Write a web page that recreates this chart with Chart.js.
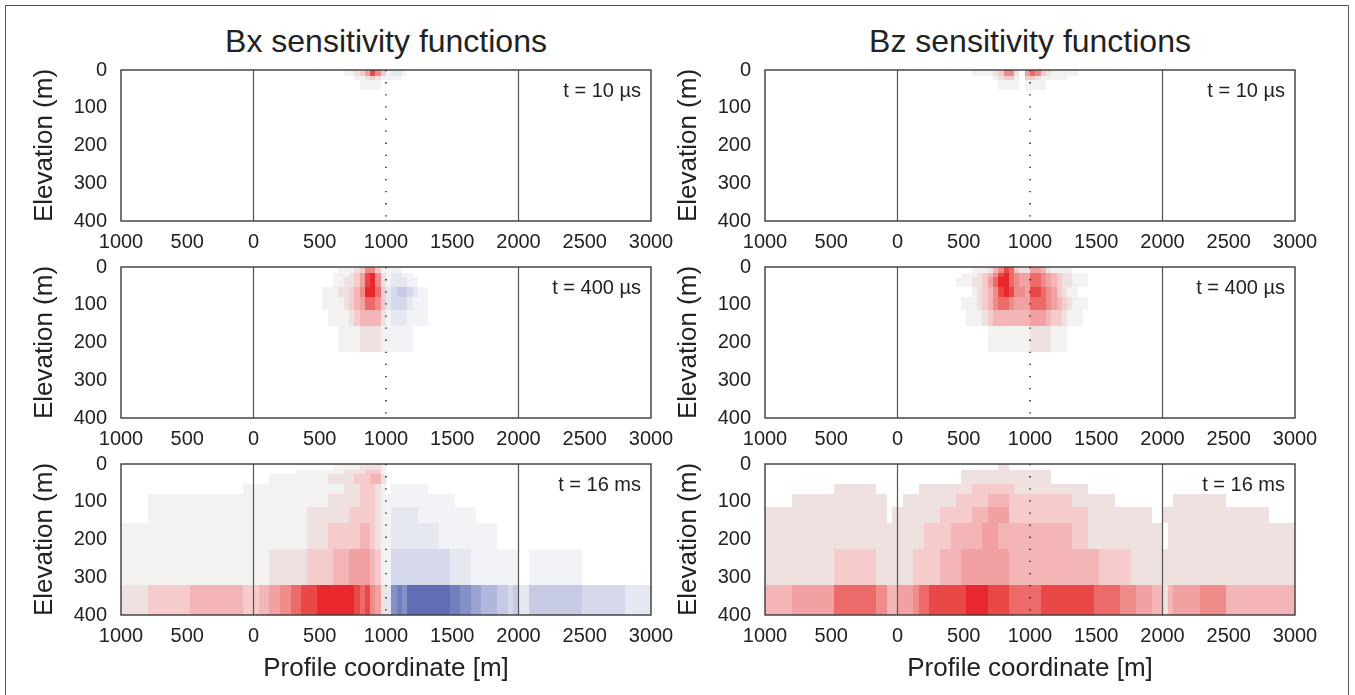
<!DOCTYPE html>
<html>
<head>
<meta charset="utf-8">
<script src="https://cdn.jsdelivr.net/npm/chart.js@4.4.1/dist/chart.umd.min.js"></script>
<style>
  html, body { margin: 0; padding: 0; background: #fff; overflow: hidden; }
  body { width: 1355px; height: 695px; position: relative; font-family: 'Liberation Sans', Arial, sans-serif; color: #222; }
  .frame { position: absolute; left: 5px; top: 5px; width: 1342px; height: 720px; border: 1px solid #555; }
  .ptitle { position: absolute; top: 25px; width: 530px; text-align: center; font-size: 32px; line-height: 32px; white-space: nowrap; }
  canvas { position: absolute; }
</style>
</head>
<body>
<div class="frame"></div>
<div class="ptitle" style="left:121px">Bx sensitivity functions</div>
<div class="ptitle" style="left:765px">Bz sensitivity functions</div>
<canvas id="bx10"></canvas>
<canvas id="bz10"></canvas>
<canvas id="bx400"></canvas>
<canvas id="bz400"></canvas>
<canvas id="bx16"></canvas>
<canvas id="bz16"></canvas>
<script>
// mesh cell edges (m): coarse pads left/right, 40 m cells between 0 and 2000
const xEdges = [-1000, -800, -480, -160, -80, -40,
  0, 40, 80, 120, 160, 200, 240, 280, 320, 360,
  400, 440, 480, 520, 560, 600, 640, 680, 720, 760,
  800, 840, 880, 920, 960, 1000, 1040, 1080, 1120, 1160,
  1200, 1240, 1280, 1320, 1360, 1400, 1440, 1480, 1520, 1560,
  1600, 1640, 1680, 1720, 1760, 1800, 1840, 1880, 1920, 1960,
  2000, 2040, 2080, 2280, 2480, 2800, 3000];
const yEdges = [0, 15, 27, 53, 80, 115, 157, 225, 320, 400];

const xTickValues = [-1000, -500, 0, 500, 1000, 1500, 2000, 2500, 3000];
const xTickLabels = ['1000', '500', '0', '500', '1000', '1500', '2000', '2500', '3000'];
const yTickValues = [0, 100, 200, 300, 400];
const yTickLabels = ['0', '100', '200', '300', '400'];
const solidLines = [0, 2000];
const dottedLine = 1000;

// sensitivity, signed level -9..9 (red +, blue -), one row per depth layer
// columns: 6 left pads | 50 centre cells | 6 right pads
const bx10 = [
  [0,0,0,0,0,0, 0,0,0,0,0,0,0,0,0,0, 0,0,0,0,0,0,0,1,1,2, 3,5,8,6,3,-1,-2,-2,-1,0, 0,0,0,0,0,0,0,0,0,0, 0,0,0,0,0,0,0,0,0,0, 0,0,0,0,0,0],
  [0,0,0,0,0,0, 0,0,0,0,0,0,0,0,0,0, 0,0,0,0,0,0,0,0,0,1, 1,2,3,2,1,-1,-1,-1,0,0, 0,0,0,0,0,0,0,0,0,0, 0,0,0,0,0,0,0,0,0,0, 0,0,0,0,0,0],
  [0,0,0,0,0,0, 0,0,0,0,0,0,0,0,0,0, 0,0,0,0,0,0,0,0,0,0, 1,1,1,1,0,0,0,0,0,0, 0,0,0,0,0,0,0,0,0,0, 0,0,0,0,0,0,0,0,0,0, 0,0,0,0,0,0],
  [], [], [], [], [], []
];
const bz10 = [
  [0,0,0,0,0,0, 0,0,0,0,0,0,0,0,0,0, 0,0,0,0,1,1,1,1,2,3, 6,6,2,0,5,7,6,3,2,1, 1,1,1,1,0,0,0,0,0,0, 0,0,0,0,0,0,0,0,0,0, 0,0,0,0,0,0],
  [0,0,0,0,0,0, 0,0,0,0,0,0,0,0,0,0, 0,0,0,0,0,0,0,0,1,2, 3,3,1,0,3,3,2,1,1,1, 1,1,0,0,0,0,0,0,0,0, 0,0,0,0,0,0,0,0,0,0, 0,0,0,0,0,0],
  [0,0,0,0,0,0, 0,0,0,0,0,0,0,0,0,0, 0,0,0,0,0,0,0,0,0,1, 1,1,1,0,1,1,1,1,0,0, 0,0,0,0,0,0,0,0,0,0, 0,0,0,0,0,0,0,0,0,0, 0,0,0,0,0,0],
  [], [], [], [], [], []
];
const bx400 = [
  [0,0,0,0,0,0, 0,0,0,0,0,0,0,0,0,0, 0,0,0,0,0,0,1,1,1,2, 3,6,6,3,1,-1,-1,-1,0,0, 0,0,0,0,0,0,0,0,0,0, 0,0,0,0,0,0,0,0,0,0, 0,0,0,0,0,0],
  [0,0,0,0,0,0, 0,0,0,0,0,0,0,0,0,0, 0,0,0,0,0,1,1,1,2,3, 5,8,9,6,2,-1,-2,-2,-1,-1, 0,0,0,0,0,0,0,0,0,0, 0,0,0,0,0,0,0,0,0,0, 0,0,0,0,0,0],
  [0,0,0,0,0,0, 0,0,0,0,0,0,0,0,0,0, 0,0,0,0,0,1,1,2,2,3, 5,8,9,6,2,-1,-2,-2,-2,-1, -1,0,0,0,0,0,0,0,0,0, 0,0,0,0,0,0,0,0,0,0, 0,0,0,0,0,0],
  [0,0,0,0,0,0, 0,0,0,0,0,0,0,0,0,0, 0,0,0,1,1,1,2,2,3,4, 6,9,9,7,3,-2,-3,-4,-4,-3, -2,-1,-1,0,0,0,0,0,0,0, 0,0,0,0,0,0,0,0,0,0, 0,0,0,0,0,0],
  [0,0,0,0,0,0, 0,0,0,0,0,0,0,0,0,0, 0,0,0,1,1,1,1,2,3,4, 5,7,7,6,3,-2,-3,-3,-3,-2, -1,-1,-1,0,0,0,0,0,0,0, 0,0,0,0,0,0,0,0,0,0, 0,0,0,0,0,0],
  [0,0,0,0,0,0, 0,0,0,0,0,0,0,0,0,0, 0,0,0,0,1,1,1,1,2,3, 4,4,4,4,2,-1,-2,-2,-2,-1, -1,-1,-1,0,0,0,0,0,0,0, 0,0,0,0,0,0,0,0,0,0, 0,0,0,0,0,0],
  [0,0,0,0,0,0, 0,0,0,0,0,0,0,0,0,0, 0,0,0,0,0,0,1,1,1,1, 2,2,2,2,1,-1,-1,-1,-1,-1, 0,0,0,0,0,0,0,0,0,0, 0,0,0,0,0,0,0,0,0,0, 0,0,0,0,0,0],
  [], []
];
const bz400 = [
  [0,0,0,0,0,0, 0,0,0,0,0,0,0,0,0,0, 0,0,0,0,1,1,1,2,4,6, 8,7,3,2,2,5,5,4,2,1, 1,1,1,0,0,0,0,0,0,0, 0,0,0,0,0,0,0,0,0,0, 0,0,0,0,0,0],
  [0,0,0,0,0,0, 0,0,0,0,0,0,0,0,0,0, 0,0,1,1,1,2,3,4,6,8, 9,7,6,5,5,7,7,6,5,4, 3,2,2,1,1,1,0,0,0,0, 0,0,0,0,0,0,0,0,0,0, 0,0,0,0,0,0],
  [0,0,0,0,0,0, 0,0,0,0,0,0,0,0,0,0, 0,1,1,1,2,2,3,5,7,9, 9,7,6,5,5,7,7,6,5,4, 3,2,2,1,1,1,0,0,0,0, 0,0,0,0,0,0,0,0,0,0, 0,0,0,0,0,0],
  [0,0,0,0,0,0, 0,0,0,0,0,0,0,0,0,0, 0,0,0,0,1,2,3,4,6,8, 9,8,6,6,5,8,8,7,6,5, 3,2,1,1,0,0,0,0,0,0, 0,0,0,0,0,0,0,0,0,0, 0,0,0,0,0,0],
  [0,0,0,0,0,0, 0,0,0,0,0,0,0,0,0,0, 0,0,1,1,1,2,3,4,6,7, 7,6,5,5,5,7,7,7,6,5, 4,3,2,1,1,1,0,0,0,0, 0,0,0,0,0,0,0,0,0,0, 0,0,0,0,0,0],
  [0,0,0,0,0,0, 0,0,0,0,0,0,0,0,0,0, 0,0,0,1,1,1,2,3,4,4, 4,4,4,4,4,5,5,5,4,3, 3,2,1,1,1,0,0,0,0,0, 0,0,0,0,0,0,0,0,0,0, 0,0,0,0,0,0],
  [0,0,0,0,0,0, 0,0,0,0,0,0,0,0,0,0, 0,0,0,0,0,0,0,1,1,1, 1,1,1,1,1,2,2,2,2,1, 1,1,0,0,0,0,0,0,0,0, 0,0,0,0,0,0,0,0,0,0, 0,0,0,0,0,0],
  [], []
];
const bx16 = [
  [0,0,0,0,0,0, 0,0,0,0,0,0,0,0,0,0, 0,0,0,0,0,1,1,1,1,1, 2,2,2,2,1,0,0,0,0,0, 0,0,0,0,0,0,0,0,0,0, 0,0,0,0,0,0,0,0,0,0, 0,0,0,0,0,0],
  [0,0,0,0,0,0, 0,0,0,0,0,0,0,0,1,1, 1,1,1,1,1,1,1,2,2,2, 2,3,3,3,1,0,0,0,0,0, 0,0,0,0,0,0,0,0,0,0, 0,0,0,0,0,0,0,0,0,0, 0,0,0,0,0,0],
  [0,0,0,0,0,0, 0,0,0,1,1,1,1,1,1,1, 1,1,1,1,2,2,2,2,2,3, 3,3,4,4,2,0,0,0,0,0, 0,0,0,0,0,0,0,0,0,0, 0,0,0,0,0,0,0,0,0,0, 0,0,0,0,0,0],
  [0,0,0,0,1,1, 1,1,1,1,1,1,1,1,1,1, 1,1,1,1,1,1,1,2,2,2, 3,3,3,2,1,0,-1,-1,-1,-1, -1,-1,-1,0,0,0,0,0,0,0, 0,0,0,0,0,0,0,0,0,0, 0,0,0,0,0,0],
  [0,1,1,1,1,1, 1,1,1,1,1,1,1,1,1,1, 1,1,1,1,2,2,2,2,2,2, 3,3,3,2,1,-1,-1,-1,-1,-1, -1,-1,-1,-1,-1,-1,-1,-1,0,0, 0,0,0,0,0,0,0,0,0,0, 0,0,0,0,0,0],
  [0,1,1,1,1,1, 1,1,1,1,1,1,1,1,1,1, 2,2,2,2,2,2,2,2,3,3, 3,3,3,2,1,-1,-2,-2,-2,-2, -2,-1,-1,-1,-1,-1,-1,-1,-1,-1, -1,-1,0,0,0,0,0,0,0,0, 0,0,0,0,0,0],
  [1,1,1,1,1,1, 1,1,1,1,1,1,1,1,1,1, 2,2,2,2,3,3,3,3,3,3, 4,4,3,2,1,-1,-2,-2,-2,-2, -2,-2,-2,-2,-2,-1,-1,-1,-1,-1, -1,-1,-1,-1,-1,-1,0,0,0,0, 0,0,0,0,0,0],
  [1,1,1,1,1,1, 1,1,1,2,2,2,2,2,2,2, 3,3,3,3,3,4,4,4,5,5, 5,5,4,3,1,-1,-3,-3,-3,-3, -3,-3,-3,-3,-3,-3,-3,-2,-2,-2, -2,-1,-1,-1,-1,-1,-1,-1,-1,-1, 0,0,-1,-1,0,0],
  [2,3,4,4,3,3, 3,4,4,5,5,6,6,7,7,8, 8,8,9,9,9,9,9,9,9,8, 7,8,6,5,2,-2,-7,-8,-7,-9, -9,-9,-9,-9,-9,-9,-9,-8,-8,-7, -7,-6,-6,-5,-5,-5,-4,-4,-3,-4, -2,-2,-4,-4,-3,-2]
];
const bz16 = [
  [0,0,0,0,0,0, 0,0,0,0,0,0,0,0,0,0, 0,0,0,0,0,0,0,0,0,2, 2,0,0,0,0,0,0,0,0,0, 0,0,0,0,0,0,0,0,0,0, 0,0,0,0,0,0,0,0,0,0, 0,0,0,0,0,0],
  [0,0,0,0,0,0, 0,0,0,0,0,0,0,0,0,0, 0,0,2,2,2,2,2,2,2,2, 2,2,2,2,2,2,2,2,2,0, 0,0,0,0,0,0,0,0,0,0, 0,0,0,0,0,0,0,0,0,0, 0,0,0,0,0,0],
  [0,0,0,0,0,0, 0,0,0,0,0,0,0,0,0,0, 0,0,2,2,2,2,2,2,2,2, 2,2,2,2,2,2,2,2,2,0, 0,0,0,0,0,0,0,0,0,0, 0,0,0,0,0,0,0,0,0,0, 0,0,0,0,0,0],
  [0,0,2,0,0,0, 0,0,0,0,2,2,2,2,2,2, 2,2,2,2,3,3,3,3,3,3, 3,3,2,2,2,2,2,2,2,2, 2,2,2,2,2,2,0,0,0,0, 0,0,0,0,0,0,0,0,0,0, 0,0,0,0,0,0],
  [0,2,2,2,0,0, 0,2,2,2,2,2,2,2,2,2, 2,3,3,3,3,3,3,4,4,4, 4,3,3,3,3,3,3,3,3,3, 3,3,3,2,2,2,2,2,2,2, 2,0,0,0,0,0,0,0,0,0, 0,0,2,2,0,0],
  [2,2,2,2,0,2, 2,2,2,2,2,2,2,2,3,3, 3,3,3,3,4,4,4,5,5,5, 5,3,3,3,3,3,3,3,3,3, 3,3,3,3,3,3,2,2,2,2, 2,2,2,2,2,2,2,2,0,0, 2,2,2,2,2,0],
  [2,2,2,2,2,2, 2,2,2,2,2,3,3,3,3,3, 4,4,4,4,4,4,5,5,5,4, 4,4,4,4,4,4,4,4,4,4, 4,4,4,3,3,3,2,2,2,2, 2,2,2,2,2,2,2,2,2,2, 0,2,2,2,2,2],
  [2,2,3,2,2,2, 2,2,2,3,3,3,3,3,4,4, 4,4,5,5,5,5,5,5,5,5, 5,4,4,4,4,4,4,4,4,4, 4,4,4,4,4,4,4,4,3,3, 3,3,3,3,2,2,2,2,2,2, 2,2,2,2,2,2],
  [4,5,7,6,4,4, 5,5,5,6,7,7,8,8,8,8, 8,8,8,9,9,9,9,8,8,8, 8,7,7,7,7,7,7,8,8,8, 8,8,8,8,8,8,8,7,7,7, 7,7,6,6,6,5,5,5,4,4, 2,4,5,6,4,4]
];

const redShades = ['#f4f1f1', '#f0e1e1', '#f6cbcb', '#f3b5b5', '#f1a1a1', '#ef8b89', '#ec6b69', '#e94847', '#e8282c'];
const blueShades = ['#f2f3f6', '#e5e7f1', '#d6d9eb', '#c6cae4', '#b0b7db', '#9aa3d1', '#8590c7', '#717fbe', '#5f6fb5'];
const FONT = "'Liberation Sans', Arial, Helvetica, sans-serif";
const INK = '#222';

Chart.defaults.font.family = FONT;
Chart.defaults.color = INK;

function cellColor(level) {
  return level > 0 ? redShades[level - 1] : blueShades[-level - 1];
}

const heatLayer = {
  id: 'heatLayer',
  beforeDatasetsDraw(chart, args, opts) {
    const { ctx, scales: { x, y } } = chart;
    ctx.save();
    opts.values.forEach((row, r) => {
      const y0 = Math.round(y.getPixelForValue(yEdges[r]));
      const y1 = Math.round(y.getPixelForValue(yEdges[r + 1]));
      row.forEach((v, c) => {
        if (!v) return;
        const x0 = Math.round(x.getPixelForValue(xEdges[c]));
        const x1 = Math.round(x.getPixelForValue(xEdges[c + 1]));
        ctx.fillStyle = cellColor(v);
        ctx.fillRect(x0, y0, x1 - x0, y1 - y0);
      });
    });
    ctx.restore();
  },
  afterDatasetsDraw(chart, args, opts) {
    const { ctx, chartArea: a } = chart;
    ctx.save();
    ctx.strokeStyle = '#3a3a3a';
    ctx.lineWidth = 1.4;
    ctx.strokeRect(a.left, a.top, a.right - a.left, a.bottom - a.top);
    ctx.fillStyle = INK;
    ctx.font = '20px ' + FONT;
    ctx.textAlign = 'right';
    ctx.textBaseline = 'alphabetic';
    ctx.fillText(opts.label, a.right - 10, a.top + 27);
    ctx.restore();
  }
};

function vline(xv, dotted) {
  return {
    data: [{ x: xv, y: 0 }, { x: xv, y: 400 }],
    showLine: true,
    pointRadius: 0,
    borderColor: dotted ? '#000' : '#555',
    borderWidth: dotted ? 1.3 : 1.2,
    borderDash: dotted ? [1.3, 10.8] : []
  };
}

function makePanel(id, values, label, plotLeft, plotTop, bottomRow) {
  const canvas = document.getElementById(id);
  const xAxisH = bottomRow ? 75 : 40;
  canvas.width = 655;
  canvas.height = 12 + 151 + xAxisH;
  canvas.style.left = (plotLeft - 100) + 'px';
  canvas.style.top = (plotTop - 12) + 'px';
  new Chart(canvas.getContext('2d'), {
    type: 'scatter',
    data: {
      datasets: solidLines.map(v => vline(v, false)).concat([vline(dottedLine, true)])
    },
    options: {
      responsive: false,
      animation: false,
      devicePixelRatio: 1,
      layout: { padding: { left: 0, right: 25, top: 12, bottom: 0 } },
      plugins: {
        legend: { display: false },
        tooltip: { enabled: false },
        heatLayer: { values: values, label: label }
      },
      scales: {
        x: {
          type: 'linear', min: -1000, max: 3000,
          grid: { display: false, drawTicks: false },
          border: { display: false },
          afterBuildTicks: s => { s.ticks = xTickValues.map(v => ({ value: v })); },
          ticks: {
            autoSkip: false, maxRotation: 0, padding: 9,
            font: { size: 20 }, color: INK,
            callback: v => xTickLabels[xTickValues.indexOf(v)]
          },
          title: {
            display: bottomRow, text: 'Profile coordinate [m]',
            font: { size: 26 }, color: INK, padding: { top: 0, bottom: 6 }
          },
          afterFit: s => { s.height = xAxisH; s.paddingLeft = 0; s.paddingRight = 0; }
        },
        y: {
          type: 'linear', min: 0, max: 400, reverse: true,
          grid: { display: false, drawTicks: false },
          border: { display: false },
          afterBuildTicks: s => { s.ticks = yTickValues.map(v => ({ value: v })); },
          ticks: {
            autoSkip: false, padding: 14,
            font: { size: 20 }, color: INK,
            callback: v => yTickLabels[yTickValues.indexOf(v)]
          },
          title: {
            display: true, text: 'Elevation (m)',
            font: { size: 26 }, color: INK, padding: { top: 8, bottom: 0 }
          },
          afterFit: s => { s.width = 100; s.paddingTop = 0; s.paddingBottom = 0; }
        }
      }
    },
    plugins: [heatLayer]
  });
}

makePanel('bx10', bx10, 't = 10 \u00b5s', 121, 70, false);
makePanel('bz10', bz10, 't = 10 \u00b5s', 765, 70, false);
makePanel('bx400', bx400, 't = 400 \u00b5s', 121, 267, false);
makePanel('bz400', bz400, 't = 400 \u00b5s', 765, 267, false);
makePanel('bx16', bx16, 't = 16 ms', 121, 464, true);
makePanel('bz16', bz16, 't = 16 ms', 765, 464, true);
</script>
</body>
</html>
